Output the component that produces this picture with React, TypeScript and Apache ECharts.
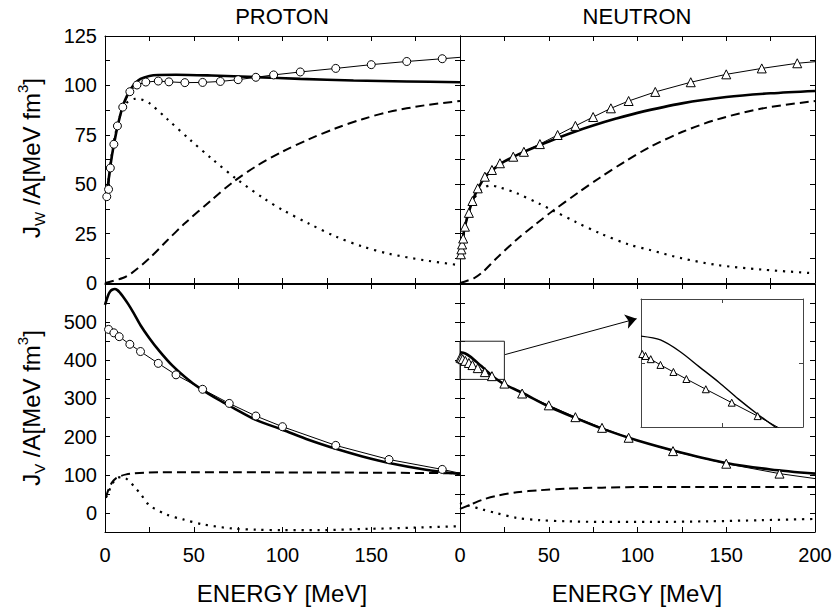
import React, { useEffect, useRef } from "react";
import * as echarts from "echarts";

// ---------- data (energy in MeV, volume integrals in MeV fm^3) ----------
// Proton J_W
const pWCircE = [1, 2, 3, 5, 7, 10, 14, 18, 23, 30, 36, 45, 55, 65, 75, 85, 95, 110, 130, 150, 170, 190];
const pWCircV = [43.7, 47.4, 58.2, 70.2, 79.5, 89.0, 96.8, 100.2, 101.7, 102.2, 101.8, 101.4, 101.5, 102.0, 102.9, 104.1, 105.3, 106.8, 108.6, 110.5, 112.1, 113.5];
const pWLineEnd = [200, 114.2];
const pWTotE = [0.5, 1, 2, 3, 4, 5, 7, 10, 12, 14, 17, 20, 25, 30, 40, 60, 85, 110, 140, 170, 200];
const pWTotV = [42, 45, 52, 59, 65, 70, 79, 89.5, 94, 97.5, 101, 103.3, 104.8, 105.3, 105.4, 105, 104.2, 103.3, 102.5, 102, 101.6];
const pWDotE = [2, 4, 6, 9, 12, 17, 20, 25, 35, 48, 60, 75, 90, 100, 115, 130, 145, 160, 180, 200];
const pWDotV = [52, 66, 76, 86, 91, 93.2, 93, 91, 83, 72.4, 63, 52, 42.5, 37, 30, 23.5, 18.5, 14.8, 11.5, 9];
const pWDashE = [0, 10, 15, 25, 35, 45, 60, 72, 85, 100, 115, 130, 145, 160, 180, 200];
const pWDashV = [0, 2.5, 5, 12.5, 21.5, 30.2, 42, 51, 59, 66.5, 72.8, 78.3, 82.9, 86.6, 89.9, 92.1];

// Neutron J_W
const nWTriE = [0.5, 0.8, 1.2, 1.8, 2.8, 5, 7, 10, 14, 18, 22.5, 30, 36, 45, 55, 65, 75, 85, 95, 110, 130, 150, 170, 190];
const nWTriV = [14.5, 17, 19.5, 22.5, 28.5, 35.5, 41.5, 47.9, 53.8, 57.2, 60.6, 63.9, 66.4, 70.3, 74.9, 79.5, 84, 88.4, 92.1, 96.7, 101.6, 105.6, 108.6, 111.2];
const nWLineEnd = [200, 112];
const nWTotE = [0.5, 1, 2, 3, 5, 7, 10, 14, 18, 25, 35, 45, 55, 65, 75, 88, 100, 125, 150, 175, 200];
const nWTotV = [15, 19, 25, 29.5, 36, 41.5, 47.5, 53.5, 57, 61.5, 66, 69.8, 73.4, 76.7, 79.7, 83.2, 86.1, 90.9, 94.1, 96.0, 97.2];
const nWDotE = [2, 4, 7, 10, 13, 17, 22, 32, 45, 52, 65, 79, 95, 107, 125, 145, 170, 200];
const nWDotV = [24, 33, 41, 45.5, 48, 49.3, 48.5, 45.4, 40, 36.8, 31, 25.1, 19.5, 16.7, 12.5, 9.1, 6.8, 4.9];
const nWDashE = [0, 8, 13, 20, 32, 43, 52, 67, 79, 93, 107, 125, 145, 170, 200];
const nWDashV = [0, 2.5, 5.7, 12, 22, 30, 36.3, 46, 53.4, 61.5, 68.8, 76.4, 82.8, 88.3, 92.1];

// Proton J_V
const pVCircE = [2, 5, 8, 14, 20, 30, 40, 55, 70, 85, 100, 130, 160, 190];
const pVCircV = [481, 472, 462, 442, 423, 392, 362, 324, 287, 254, 226, 177, 140, 114];
const pVLineEnd = [200, 104];
const pVTotE = [0, 1, 2, 3, 4, 5.5, 7, 8.5, 10, 13, 16, 20, 25, 30, 38, 48, 55, 65, 72, 85, 100, 115, 130, 145, 160, 180, 200];
const pVTotV = [545, 560, 573, 581, 585, 587, 584, 577, 568, 548, 525, 492, 458, 428, 386, 345, 322, 294, 276, 244, 218, 191, 168, 148, 131, 114, 102];
const pVDashE = [0.5, 2, 4, 6, 9, 12, 16, 22, 30, 50, 75, 100, 130, 160, 200];
const pVDashV = [40, 62, 80, 90, 97, 101, 103.5, 105.5, 106.5, 106.8, 106.5, 106.2, 105.8, 105.2, 104];
const pVDotE = [0.5, 2, 4, 6.6, 9, 11.3, 14, 17, 20, 25, 35, 44, 55, 72, 85, 100, 120, 147, 175, 200];
const pVDotV = [40, 55, 75, 91, 94, 92, 82, 66, 50, 20, -5, -17, -30, -41, -44, -45, -45, -42, -38.5, -35];

// Neutron J_V
const nVTriE = [0.2, 0.7, 1.5, 3, 5, 7, 10, 14, 18, 25, 35, 50, 65, 80, 95, 120, 150, 180];
const nVTriV = [407, 405.5, 403, 398.5, 393, 387.5, 379.5, 369, 358.5, 339, 313, 282, 251, 223, 197, 162, 129, 103];
const nVLineEnd = [200, 90];
const nVTotE = [0, 3, 6, 9, 12, 15, 18, 21, 25, 35, 50, 65, 80, 100, 125, 150, 175, 200];
const nVTotV = [421, 418, 409, 397, 385, 372, 360, 349, 337, 315, 279, 249, 221, 190, 158, 131, 114, 103];
const nVDashE = [0, 5, 13, 20, 32, 45, 60, 80, 107, 140, 200];
const nVDashV = [10.5, 20, 35, 44, 54, 59.5, 63.8, 66.2, 68, 68, 68];
const nVDotE = [0, 5, 13, 20, 32, 45, 60, 80, 107, 140, 170, 200];
const nVDotV = [26, 19, 8.7, 0, -13, -19, -22, -23.5, -23.6, -22, -19, -15.7];

// inset window (zoomed region of the neutron J_V panel) and arrow
const insetBox = [[0, 350], [25, 450]];
const arrowFrom = [25.4, 415];
const arrowTo = [99.5, 509];

// axis ranges / tick labels
const xRange = [0, 200];
const xTickLabels = [0, 50, 100, 150, 200];
const wRange = [0, 125];
const wTickLabels = [0, 25, 50, 75, 100, 125];
const vRange = [-50, 600];
const vTickLabels = [0, 100, 200, 300, 400, 500];

const titles = ["PROTON", "NEUTRON"];
const xTitle = "ENERGY [MeV]";

// ---------- helpers ----------
const FONT = "'Liberation Sans', Arial, Helvetica, sans-serif";
const pair = (xs: number[], ys: number[]) => xs.map((x, i) => [x, ys[i]]);

const GRIDS = [
  { left: 105, top: 36, width: 355, height: 247 },
  { left: 460, top: 36, width: 355, height: 247 },
  { left: 105, top: 284, width: 355, height: 248 },
  { left: 460, top: 284, width: 355, height: 248 },
  { left: 641, top: 299, width: 162, height: 128 },
];

function axisPair(kind: "x" | "y", grid: number, min: number, max: number, interval: number, labels: number[] | null, color = "#000", tickLen = 5) {
  const base: any = {
    type: "value",
    gridIndex: grid,
    min,
    max,
    interval,
    splitLine: { show: false },
    axisLine: { show: true, onZero: false, lineStyle: { color, width: 1 } },
    axisTick: { show: true, inside: true, length: tickLen, lineStyle: { color, width: 1 } },
  };
  const first = {
    ...base,
    position: kind === "x" ? "bottom" : "left",
    axisLabel: labels
      ? {
          show: true,
          color: "#000",
          fontSize: 20,
          fontFamily: FONT,
          margin: kind === "x" ? 13 : 8,
          formatter: (v: number) => (labels.indexOf(v) >= 0 ? String(v) : ""),
        }
      : { show: false },
  };
  const second = { ...base, position: kind === "x" ? "top" : "right", axisLabel: { show: false } };
  return [first, second];
}

const SMOOTH = 0.3;
const thick = (g: number, xs: number[], ys: number[], width = 2.6) => ({
  type: "line",
  xAxisIndex: 2 * g,
  yAxisIndex: 2 * g,
  data: pair(xs, ys),
  symbol: "none",
  smooth: SMOOTH,
  lineStyle: { color: "#000", width },
  z: 3,
});
const styled = (g: number, xs: number[], ys: number[], type: any, width: number) => ({
  type: "line",
  xAxisIndex: 2 * g,
  yAxisIndex: 2 * g,
  data: pair(xs, ys),
  symbol: "none",
  smooth: SMOOTH,
  lineStyle: { color: "#000", width, type },
  z: 2,
});
const marked = (g: number, xs: number[], ys: number[], end: number[] | null, symbol: string, size: number) => ({
  type: "line",
  xAxisIndex: 2 * g,
  yAxisIndex: 2 * g,
  data: [...pair(xs, ys), ...(end ? [{ value: end, symbol: "none" }] : [])],
  symbol,
  symbolSize: size,
  showSymbol: true,
  showAllSymbol: true,
  lineStyle: { color: "#000", width: 1 },
  itemStyle: { color: "#fff", borderColor: "#000", borderWidth: 1 },
  z: 4,
});

const DASH = [9, 5];
const DOT = [2.2, 5.8];

export default function App() {
  const ref = useRef<HTMLDivElement>(null);
  useEffect(() => {
    const chart = echarts.init(ref.current!, null, { renderer: "svg" });
    const xAxis: any[] = [];
    const yAxis: any[] = [];
    xAxis.push(...axisPair("x", 0, xRange[0], xRange[1], 25, null));
    yAxis.push(...axisPair("y", 0, wRange[0], wRange[1], 12.5, wTickLabels));
    xAxis.push(...axisPair("x", 1, xRange[0], xRange[1], 25, null));
    yAxis.push(...axisPair("y", 1, wRange[0], wRange[1], 12.5, null));
    xAxis.push(...axisPair("x", 2, xRange[0], xRange[1], 25, xTickLabels.filter((v) => v !== 200)));
    yAxis.push(...axisPair("y", 2, vRange[0], vRange[1], 50, vTickLabels));
    xAxis.push(...axisPair("x", 3, xRange[0], xRange[1], 25, xTickLabels));
    yAxis.push(...axisPair("y", 3, vRange[0], vRange[1], 50, null));
    xAxis.push(...axisPair("x", 4, insetBox[0][0], insetBox[1][0], 12.5, null, "#444", 4));
    yAxis.push(...axisPair("y", 4, insetBox[0][1], insetBox[1][1], 50, null, "#444", 4));

    const triBR: any = marked(3, nVTriE, nVTriV, nVLineEnd, "triangle", 9);
    triBR.markLine = {
      silent: true,
      symbol: ["none", "arrow"],
      symbolSize: 11,
      label: { show: false },
      lineStyle: { color: "#000", width: 1, type: "solid" },
      data: [[{ coord: arrowFrom }, { coord: arrowTo }]],
    };
    triBR.markArea = {
      silent: true,
      itemStyle: { color: "rgba(0,0,0,0)", borderColor: "#222", borderWidth: 1 },
      label: { show: false },
      data: [[{ coord: insetBox[0] }, { coord: insetBox[1] }]],
    };

    const series: any[] = [
      // proton J_W
      styled(0, pWDashE, pWDashV, DASH, 2),
      styled(0, pWDotE, pWDotV, DOT, 2.2),
      thick(0, pWTotE, pWTotV),
      marked(0, pWCircE, pWCircV, pWLineEnd, "circle", 8),
      // neutron J_W
      styled(1, nWDashE, nWDashV, DASH, 2),
      styled(1, nWDotE, nWDotV, DOT, 2.2),
      thick(1, nWTotE, nWTotV),
      marked(1, nWTriE, nWTriV, nWLineEnd, "triangle", 9),
      // proton J_V
      styled(2, pVDashE, pVDashV, DASH, 2),
      styled(2, pVDotE, pVDotV, DOT, 2.2),
      thick(2, pVTotE, pVTotV),
      marked(2, pVCircE, pVCircV, pVLineEnd, "circle", 8),
      // neutron J_V
      styled(3, nVDashE, nVDashV, DASH, 2),
      styled(3, nVDotE, nVDotV, DOT, 2.2),
      thick(3, nVTotE, nVTotV),
      triBR,
      // inset
      thick(4, nVTotE, nVTotV, 1.4),
      marked(4, nVTriE, nVTriV, nVLineEnd, "triangle", 7),
    ];

    const yTitle = (x: number, y: number, sub: string) => ({
      type: "text",
      x,
      y,
      rotation: Math.PI / 2,
      style: {
        text: `{a|J}{s|${sub}}{a| /A[MeV fm}{p|3}{a|]}`,
        align: "center",
        verticalAlign: "middle",
        fill: "#000",
        rich: {
          a: { fontSize: 24, lineHeight: 32, fontFamily: FONT, fill: "#000", verticalAlign: "middle" },
          s: { fontSize: 15, lineHeight: 15, fontFamily: FONT, fill: "#000", verticalAlign: "bottom" },
          p: { fontSize: 15, lineHeight: 15, fontFamily: FONT, fill: "#000", verticalAlign: "top" },
        },
      },
    });
    const plainText = (x: number, y: number, text: string, size: number) => ({
      type: "text",
      x,
      y,
      style: { text, align: "center", verticalAlign: "middle", fontSize: size, fontFamily: FONT, fill: "#000" },
    });

    chart.setOption({
      animation: false,
      backgroundColor: "#fff",
      grid: GRIDS.map((g) => ({ ...g, containLabel: false })),
      xAxis,
      yAxis,
      series,
      graphic: [
        plainText(282, 16, titles[0], 22),
        plainText(637, 16, titles[1], 22),
        plainText(282, 593, xTitle, 24),
        plainText(637, 593, xTitle, 24),
        yTitle(31, 158, "W"),
        yTitle(31, 408, "V"),
      ],
    });
    return () => chart.dispose();
  }, []);
  return <div ref={ref} style={{ position: "absolute", left: 0, top: 0, width: 835, height: 613 }} />;
}
